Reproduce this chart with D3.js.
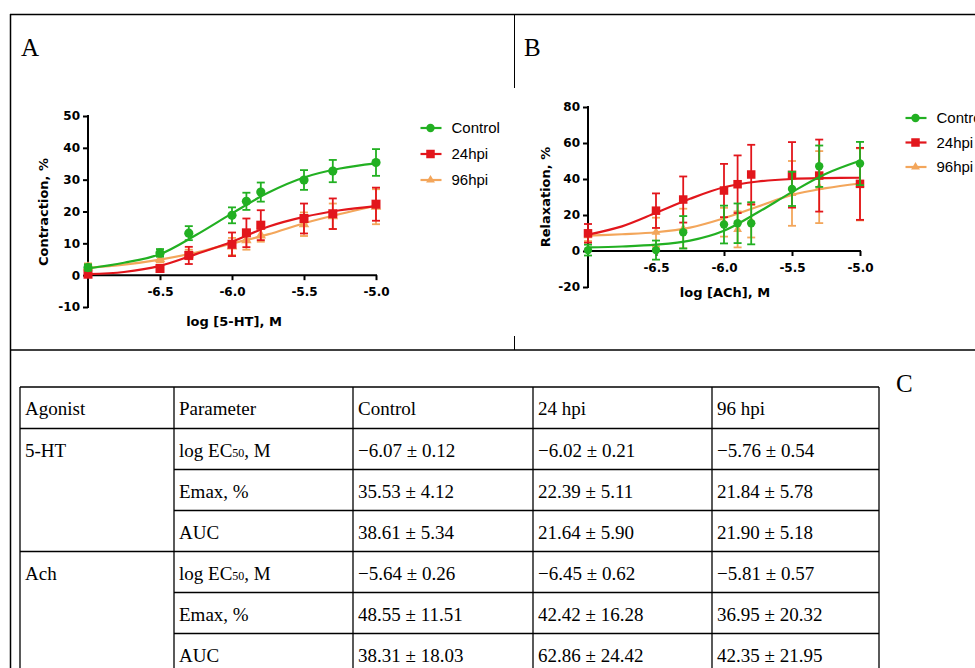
<!DOCTYPE html>
<html>
<head>
<meta charset="UTF-8">
<script src="https://d3js.org/d3.v7.min.js"></script>
<style>
  body { margin: 0; background: #fff; }
  svg { display: block; }
  .tick text { font-family: "DejaVu Sans", sans-serif; font-weight: bold; font-size: 12px; }
</style>
</head>
<body>
<div id="fig"></div>
<script>
// concentrations (log M) used in both experiments
const logConc = [-7, -6.5, -6.3, -6.0, -5.9, -5.8, -5.5, -5.3, -5.0];
const curveX = [-7, -6.75, -6.5, -6.25, -6.0, -5.75, -5.5, -5.25, -5.0];

const groups = ["Control", "24hpi", "96hpi"];
const colors = ["#22b022", "#e2161c", "#f3a65b"];

// panel A: 5-HT contraction, %
const htControl    = [2.4, 7.0, 13.2, 18.8, 23.2, 26.1, 29.9, 32.7, 35.4];
const htControlErr = [1.0, 1.2, 2.2, 2.5, 2.7, 3.0, 3.1, 3.5, 4.2];
const ht24         = [0.3, 2.1, 6.2, 9.7, 13.3, 15.7, 17.8, 19.3, 22.3];
const ht24Err      = [0.3, 0.6, 2.7, 3.7, 4.5, 4.7, 4.7, 4.8, 5.2];
const ht96         = [2.5, 5.0, 6.5, 9.0, 11.0, 12.5, 16.0, 18.5, 21.5];
const ht96Err      = [1.2, 1.0, 1.5, 2.7, 3.0, 2.0, 3.7, 4.0, 5.5];
const htFitControl = [2.1, 3.9, 6.6, 12.6, 19.4, 25.9, 30.7, 33.5, 35.1];
const htFit24      = [0.3, 1.0, 2.9, 6.6, 10.5, 15.2, 18.3, 20.4, 21.7];
const htFit96      = [2.3, 3.3, 4.9, 7.1, 10.0, 12.8, 16.3, 19.2, 21.8];

// panel B: ACh relaxation, %
const achControl    = [0.5, 0.5, 10.4, 14.7, 15.4, 15.4, 34.5, 47.1, 48.6];
const achControlErr = [3.0, 5.3, 9.0, 10.5, 11.0, 11.7, 9.5, 11.5, 12.0];
const ach24         = [9.8, 22.4, 28.6, 33.6, 37.1, 42.5, 42.3, 41.9, 37.3];
const ach24Err      = [5.2, 9.6, 12.8, 14.8, 16.0, 16.5, 18.2, 20.0, 20.0];
const ach96         = [8.5, 10.5, 12.5, 16.0, 12.0, 16.5, 32.0, 35.5, 37.0];
const ach96Err      = [3.0, 8.0, 11.0, 8.0, 10.0, 9.0, 18.0, 20.0, 20.0];
const achFitControl = [2.0, 2.5, 3.5, 5.8, 11.3, 21.5, 32.7, 42.9, 50.1];
const achFit24      = [9.1, 13.7, 21.2, 29.0, 35.4, 38.6, 40.0, 40.5, 40.7];
const achFit96      = [8.5, 9.3, 10.4, 13.0, 18.2, 24.7, 31.2, 34.9, 37.5];

const xTicks = [-6.5, -6.0, -5.5, -5.0];
const yTicksA = [-10, 0, 10, 20, 30, 40, 50];
const yTicksB = [-20, 0, 20, 40, 60, 80];

// panel C: table
const tableHeader = ["Agonist", "Parameter", "Control", "24 hpi", "96 hpi"];
const agonists = ["5-HT", "Ach"];
const paramNames = [["log EC", "50", ", M"], ["Emax, %", "", ""], ["AUC", "", ""]];
const htControlParams = ["\u22126.07 \u00b1 0.12", "35.53 \u00b1 4.12", "38.61 \u00b1 5.34"];
const ht24Params      = ["\u22126.02 \u00b1 0.21", "22.39 \u00b1 5.11", "21.64 \u00b1 5.90"];
const ht96Params      = ["\u22125.76 \u00b1 0.54", "21.84 \u00b1 5.78", "21.90 \u00b1 5.18"];
const achControlParams = ["\u22125.64 \u00b1 0.26", "48.55 \u00b1 11.51", "38.31 \u00b1 18.03"];
const ach24Params      = ["\u22126.45 \u00b1 0.62", "42.42 \u00b1 16.28", "62.86 \u00b1 24.42"];
const ach96Params      = ["\u22125.81 \u00b1 0.57", "36.95 \u00b1 20.32", "42.35 \u00b1 21.95"];

const W = 975, H = 668;
const svg = d3.select("#fig").append("svg").attr("width", W).attr("height", H);

// frame lines
const frame = svg.append("g").attr("stroke", "#000").attr("stroke-width", 1.5).attr("fill", "none");
frame.append("line").attr("x1", 10).attr("x2", W).attr("y1", 14.5).attr("y2", 14.5);
frame.append("line").attr("x1", 10.5).attr("x2", 10.5).attr("y1", 14).attr("y2", H);
frame.append("line").attr("x1", 10).attr("x2", W).attr("y1", 350).attr("y2", 350);
frame.append("line").attr("x1", 514.5).attr("x2", 514.5).attr("y1", 14).attr("y2", 88).attr("stroke-width", 1);
frame.append("line").attr("x1", 514.5).attr("x2", 514.5).attr("y1", 336).attr("y2", 350).attr("stroke-width", 1);

const panelLabel = (t, x, y) => svg.append("text").attr("x", x).attr("y", y)
  .attr("font-family", "Liberation Serif, serif").attr("font-size", 25).text(t);
panelLabel("A", 21, 56);
panelLabel("B", 524, 56);
panelLabel("C", 896, 392);

function marker(g, i, x, y, small) {
  if (i === 0) {
    g.append("circle").attr("cx", x).attr("cy", y).attr("r", small ? 4.2 : 4.6).attr("fill", colors[0]);
  } else if (i === 1) {
    const s = small ? 8.5 : 9;
    g.append("rect").attr("x", x - s / 2).attr("y", y - s / 2).attr("width", s).attr("height", s).attr("fill", colors[1]);
  } else {
    g.append("path").attr("d", d3.symbol(d3.symbolTriangle).size(small ? 34 : 48)())
      .attr("transform", `translate(${x},${y})`).attr("fill", colors[2]);
  }
}

function drawPanel(p) {
  const x = d3.scaleLinear().domain([-7, -5]).range(p.xRange);
  const y = d3.scaleLinear().domain(p.yDomain).range(p.yRange);
  const g = svg.append("g");

  // y axis
  const ya = g.append("g").attr("transform", `translate(${p.xRange[0]},0)`)
    .call(d3.axisLeft(y).tickValues(p.yTicks).tickSize(5).tickPadding(3).tickFormat(d3.format("d")));
  // x axis at zero
  const xa = g.append("g").attr("transform", `translate(0,${y(0)})`)
    .call(d3.axisBottom(x).tickValues(xTicks).tickSize(5).tickPadding(7).tickFormat(d3.format(".1f")));
  [ya, xa].forEach(a => {
    a.select(".domain").attr("stroke-width", 2).attr("d", null);
    a.selectAll(".tick line").attr("stroke-width", 2);
    a.selectAll(".tick text").attr("fill", "#000");
  });
  ya.select(".domain").remove();
  xa.select(".domain").remove();
  g.append("line").attr("x1", p.xRange[0]).attr("x2", p.xRange[0]).attr("y1", y(p.yDomain[1]) - 1).attr("y2", y(p.yDomain[0]) + 1)
    .attr("stroke", "#000").attr("stroke-width", 2);
  g.append("line").attr("x1", p.xRange[0]).attr("x2", p.xRange[1] + 1).attr("y1", y(0)).attr("y2", y(0))
    .attr("stroke", "#000").attr("stroke-width", 2);
  xa.selectAll(".tick text").text(d => d3.format(".1f")(d).replace("\u2212", "-"));
  ya.selectAll(".tick text").text(d => String(d));

  // axis titles
  g.append("text").attr("x", p.xTitle[0]).attr("y", p.xTitle[1]).attr("text-anchor", "middle")
    .attr("font-family", "DejaVu Sans, sans-serif").attr("font-weight", "bold").attr("font-size", 13).text(p.xLabel);
  g.append("text").attr("transform", `translate(${p.yTitle[0]},${p.yTitle[1]}) rotate(-90)`).attr("text-anchor", "middle")
    .attr("font-family", "DejaVu Sans, sans-serif").attr("font-weight", "bold").attr("font-size", 13).text(p.yLabel);

  const line = d3.line().x((d, i) => x(curveX[i])).y(d => y(d)).curve(d3.curveCatmullRom);

  // draw order: 96hpi, 24hpi, Control
  [2, 1, 0].forEach(i => {
    const s = g.append("g");
    s.append("path").attr("d", line(p.fits[i])).attr("fill", "none").attr("stroke", colors[i]).attr("stroke-width", 2.2);
    p.means[i].forEach((v, k) => {
      const e = p.errs[i][k], cx = x(logConc[k]);
      s.append("line").attr("x1", cx).attr("x2", cx).attr("y1", y(v - e)).attr("y2", y(v + e))
        .attr("stroke", colors[i]).attr("stroke-width", 1.8);
      [v - e, v + e].forEach(c => s.append("line").attr("x1", cx - 4).attr("x2", cx + 4).attr("y1", y(c)).attr("y2", y(c))
        .attr("stroke", colors[i]).attr("stroke-width", 1.8));
      marker(s, i, cx, y(v), p.small);
    });
  });

  // legend
  groups.forEach((name, i) => {
    const ly = p.legend[1] + i * p.legend[2];
    const lx = p.legend[0];
    g.append("line").attr("x1", lx - 10).attr("x2", lx + 11).attr("y1", ly).attr("y2", ly)
      .attr("stroke", colors[i]).attr("stroke-width", 2.2);
    marker(g, i, lx, ly, true);
    g.append("text").attr("x", lx + 21).attr("y", ly + 5)
      .attr("font-family", "Liberation Sans, Arial, sans-serif").attr("font-size", 15).text(name);
  });
}

drawPanel({
  xRange: [88, 376], yDomain: [-10, 50], yRange: [307, 116], yTicks: yTicksA,
  means: [htControl, ht24, ht96], errs: [htControlErr, ht24Err, ht96Err], fits: [htFitControl, htFit24, htFit96],
  xLabel: "log [5-HT], M", yLabel: "Contraction, %", xTitle: [234, 326], yTitle: [48, 212],
  legend: [430.5, 128, 26], small: false
});
drawPanel({
  xRange: [588, 860], yDomain: [-20, 80], yRange: [287, 107], yTicks: yTicksB,
  means: [achControl, ach24, ach96], errs: [achControlErr, ach24Err, ach96Err], fits: [achFitControl, achFit24, achFit96],
  xLabel: "log [ACh], M", yLabel: "Relaxation, %", xTitle: [725, 297], yTitle: [550, 197],
  legend: [915.5, 118, 24.5], small: true
});

// table (panel C)
const colX = [20, 174, 353, 533, 712, 879];
const rowY = [387, 428.5, 469.5, 510.5, 551.5, 592.5, 633.5, 674.5];
const tbl = svg.append("g").attr("font-family", "Liberation Serif, serif").attr("font-size", 19);
const tl = tbl.append("g").attr("stroke", "#000").attr("stroke-width", 1.3);
colX.forEach(cx => tl.append("line").attr("x1", cx).attr("x2", cx).attr("y1", rowY[0]).attr("y2", rowY[7]));
rowY.forEach((ry, r) => {
  // first column is merged across the three rows of each agonist
  const x0 = (r === 2 || r === 3 || r === 5 || r === 6) ? colX[1] : colX[0];
  tl.append("line").attr("x1", x0).attr("x2", colX[5]).attr("y1", ry).attr("y2", ry);
});

const cellText = (c, r, t) => tbl.append("text").attr("x", colX[c] + 5).attr("y", rowY[r] + 28).text(t);
tableHeader.forEach((h, c) => cellText(c, 0, h));
const allVals = [[htControlParams, ht24Params, ht96Params], [achControlParams, ach24Params, ach96Params]];
agonists.forEach((a, ai) => {
  cellText(0, 1 + ai * 3, a);
  paramNames.forEach((pn, pi) => {
    const r = 1 + ai * 3 + pi;
    const t = tbl.append("text").attr("x", colX[1] + 5).attr("y", rowY[r] + 28);
    t.append("tspan").text(pn[0]);
    if (pn[1]) t.append("tspan").attr("font-size", 12).text(pn[1]);
    if (pn[2]) t.append("tspan").text(pn[2]);
    allVals[ai].forEach((vals, gi) => cellText(2 + gi, r, vals[pi]));
  });
});
</script>
</body>
</html>
